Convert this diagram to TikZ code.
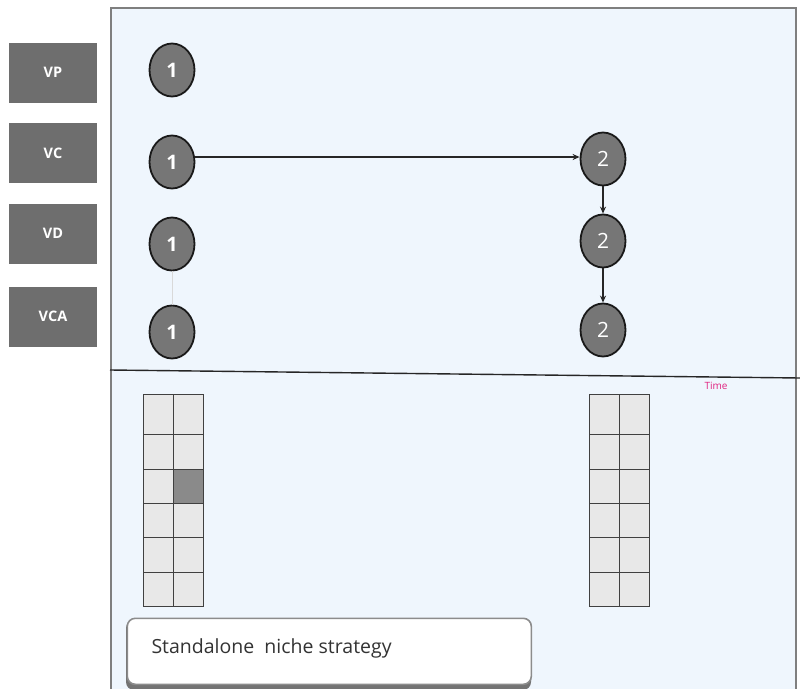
\documentclass[tikz,border=0pt]{standalone}
\usepackage{fontspec}
\setmainfont{Open Sans}
\usetikzlibrary{shapes.geometric,arrows.meta}
\definecolor{panelblue}{HTML}{EFF6FD}
\definecolor{framegray}{HTML}{7F7F7F}
\definecolor{labelgray}{HTML}{6E6E6E}
\definecolor{nodegray}{HTML}{767676}
\definecolor{cellgray}{HTML}{E8E8E8}
\definecolor{cellmark}{HTML}{8A8A8A}
\definecolor{timepink}{HTML}{E0227F}
\tikzset{
  x=1pt, y=-1pt,
  rowlabel/.style={fill=labelgray, text=white, font=\bfseries\fontsize{14.5}{16}\selectfont,
    minimum width=88pt, minimum height=60pt, inner sep=0pt},
  stage/.style={ellipse, draw=black!90, line width=1.8pt, fill=nodegray, text=white,
    minimum width=45pt, minimum height=53pt, inner sep=0pt},
  stageone/.style={stage, font=\bfseries\fontsize{20}{22}\selectfont},
  stagetwo/.style={stage, font=\fontsize{21}{23}\selectfont},
  link/.style={draw=black!85, line width=1.2pt, -{Stealth[length=7pt,width=6pt]}},
  cell/.style={draw=black!75, line width=0.9pt, fill=cellgray},
}
\begin{document}
\begin{tikzpicture}
\useasboundingbox (0,0) rectangle (800,688);
% main panel
\fill[panelblue] (111,8) rectangle (796,690);
\draw[framegray, line width=2pt] (111,690) -- (111,8) -- (796,8) -- (796,690);
% row labels
\node[rowlabel] (vp)  at (53,72.5)  {VP};
\node[rowlabel] (vc)  at (53,153)   {VC};
\node[rowlabel] (vd)  at (53,233.5) {VD};
\node[rowlabel] (vca) at (53,316.5) {VCA};
% first stage
\node[stageone] (p1) at (172,70)  {1};
\node[stageone] (c1) at (172,162) {1};
\node[stageone] (d1) at (172,244) {1};
\node[stageone] (a1) at (172,332) {1};
% second stage
\node[stagetwo] (c2) at (603,159) {2};
\node[stagetwo] (d2) at (603,241) {2};
\node[stagetwo] (a2) at (603,330) {2};
% connectors
\draw[black!15, line width=1pt] (d1) -- (a1);
\draw[link] (c1.east |- 0,157) -- (c2.west |- 0,157);
\draw[link] (c2) -- (d2);
\draw[link] (d2) -- (a2);
% time axis
\coordinate (tstart) at (110,370);
\coordinate (tend) at (800,378);
\draw[black!85, line width=1.4pt] (tstart) -- (tend);
\node[text=timepink, font=\fontsize{10}{12}\selectfont] (time) at (716,386) {Time};
% grids
\foreach \gx/\gname in {143/l, 589/r}{
  \foreach \r/\ya/\yb in {1/394/434, 2/434/469, 3/469/503, 4/503/537, 5/537/572, 6/572/606}{
    \foreach \c in {0,1}{
      \draw[cell] (\gx+30*\c,\ya) rectangle (\gx+30*\c+30,\yb);
    }
  }
}
\fill[cellmark] (173.5,469.5) rectangle (202.5,502.5);
\draw[black!75, line width=0.9pt] (173,469) rectangle (203,503);
% strategy box
\fill[black!55, rounded corners=8pt] (126,620) rectangle (531,690);
\node[draw=black!45, line width=1.6pt, fill=white, rounded corners=8pt,
  minimum width=404pt, minimum height=66pt, anchor=north west] (strategy) at (126.5,617.5) {};
\node[anchor=west, text=black!80, font=\fontsize{19.5}{22}\selectfont] (label) at (148,648) {Standalone\ \ niche strategy};
\end{tikzpicture}
\end{document}
